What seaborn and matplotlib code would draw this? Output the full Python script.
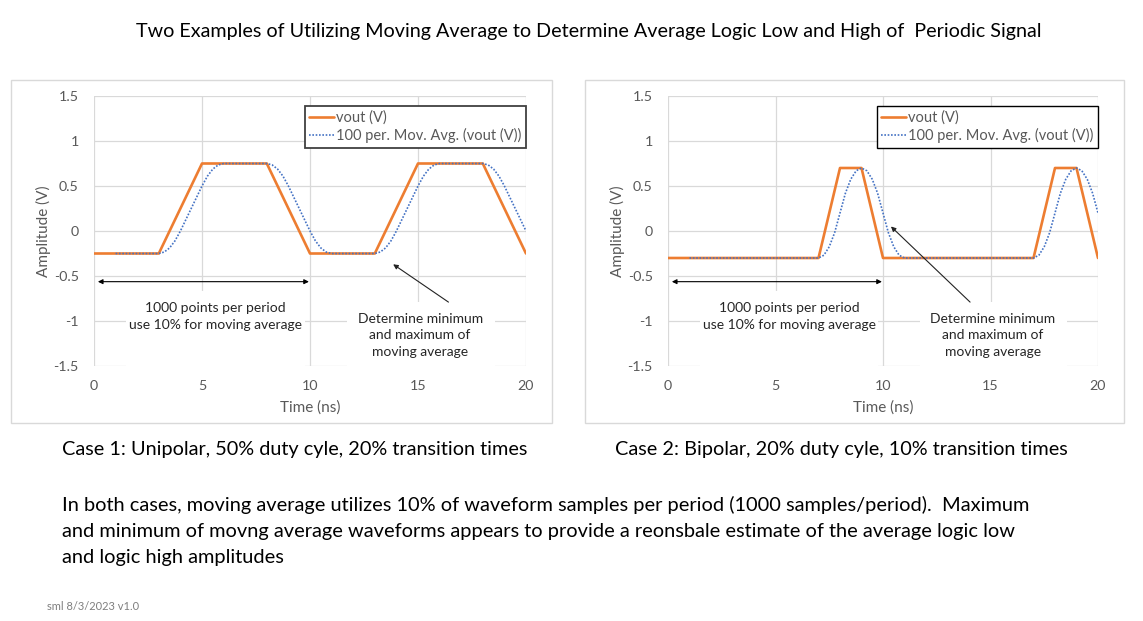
import numpy as np
import pandas as pd
import matplotlib
matplotlib.use("Agg")
import matplotlib.pyplot as plt
from matplotlib.patches import Rectangle
import seaborn as sns

# ---------------- data ----------------
# Case 1: unipolar, 50% duty, 20% transitions
t1_vout = [0, 3, 5, 8, 10, 13, 15, 18, 20]
v1_vout = [-0.25, -0.25, 0.75, 0.75, -0.25, -0.25, 0.75, 0.75, -0.25]
t1_ma = [1, 3, 3.25, 3.5, 3.75, 4, 4.5, 5, 5.25, 5.5, 5.75, 6,
         8, 8.25, 8.5, 8.75, 9, 9.5, 10, 10.25, 10.5, 10.75, 11,
         13, 13.25, 13.5, 13.75, 14, 14.5, 15, 15.25, 15.5, 15.75, 16,
         18, 18.25, 18.5, 18.75, 19, 19.5, 20]
v1_ma = [-0.25, -0.25, -0.234, -0.188, -0.109, 0.0, 0.25, 0.5, 0.609, 0.688, 0.734, 0.75,
         0.75, 0.734, 0.688, 0.609, 0.5, 0.25, 0.0, -0.109, -0.188, -0.234, -0.25,
         -0.25, -0.234, -0.188, -0.109, 0.0, 0.25, 0.5, 0.609, 0.688, 0.734, 0.75,
         0.75, 0.734, 0.688, 0.609, 0.5, 0.25, 0.0]

# Case 2: bipolar, 20% duty, 10% transitions
t2_vout = [0, 7, 8, 9, 10, 17, 18, 19, 20]
v2_vout = [-0.3, -0.3, 0.7, 0.7, -0.3, -0.3, 0.7, 0.7, -0.3]
t2_ma = [1, 7, 7.25, 7.5, 7.75, 8, 8.25, 8.5, 8.75, 9, 9.25, 9.5, 9.75, 10,
         10.25, 10.5, 10.75, 11,
         17, 17.25, 17.5, 17.75, 18, 18.25, 18.5, 18.75, 19, 19.25, 19.5, 19.75, 20]
v2_ma = [-0.3, -0.3, -0.269, -0.175, -0.019, 0.2, 0.419, 0.575, 0.669, 0.7, 0.669, 0.575, 0.419, 0.2,
         -0.019, -0.175, -0.269, -0.3,
         -0.3, -0.269, -0.175, -0.019, 0.2, 0.419, 0.575, 0.669, 0.7, 0.669, 0.575, 0.419, 0.2]

x_ticks = [0, 5, 10, 15, 20]
y_ticks = [-1.5, -1, -0.5, 0, 0.5, 1, 1.5]
y_ticklabels = ["-1.5", "-1", "-0.5", "0", "0.5", "1", "1.5"]

title = "Two Examples of Utilizing Moving Average to Determine Average Logic Low and High of  Periodic Signal"
cap1 = "Case 1: Unipolar, 50% duty cyle, 20% transition times"
cap2 = "Case 2: Bipolar, 20% duty cyle, 10% transition times"
para = ["In both cases, moving average utilizes 10% of waveform samples per period (1000 samples/period).  Maximum",
        "and minimum of movng average waveforms appears to provide a reonsbale estimate of the average logic low",
        "and logic high amplitudes"]

# ---------------- style ----------------
sns.set_style("white")
plt.rcParams['font.family'] = ['Lato', 'DejaVu Sans']

ORANGE = "#ED7D31"
BLUE = "#4472C4"
GRID = "#D9D9D9"
TICK = "#595959"

W, H = 1143, 621
fig = plt.figure(figsize=(W / 100, H / 100), dpi=100)
fig.patch.set_facecolor("white")

def fx(px):
    return px / W

def fy(py):
    return 1 - py / H

# chart frames
for (x0, x1) in [(10.5, 552), (585, 1124)]:
    fig.add_artist(Rectangle((fx(x0), fy(423)), fx(x1 - x0), (423 - 80) / H,
                             transform=fig.transFigure, facecolor="none",
                             edgecolor=GRID, lw=1.0))

axes_px = [(94, 526, "#404040", 51), (668, 1098, "black", 625)]
cases = [(t1_vout, v1_vout, t1_ma, v1_ma), (t2_vout, v2_vout, t2_ma, v2_ma)]
arrow_tail = [(16.41, -0.79), (14.05, -0.79)]
arrow_head = [(13.85, -0.37), (10.37, 0.05)]

for i, ((l, r, legcol, ylab_x), (tv, vv, tm, vm)) in enumerate(zip(axes_px, cases)):
    ax = fig.add_axes([fx(l), fy(366), fx(r - l), (366 - 96) / H])
    df_v = pd.DataFrame({"t": tv, "v": vv})
    df_m = pd.DataFrame({"t": tm, "v": vm})
    sns.lineplot(data=df_v, x="t", y="v", ax=ax, color=ORANGE, lw=1.9,
                 label="vout (V)", sort=False, estimator=None, zorder=3)
    sns.lineplot(data=df_m, x="t", y="v", ax=ax, color=BLUE, lw=1.2,
                 linestyle=(0, (1, 1)), label="100 per. Mov. Avg. (vout (V))",
                 sort=False, estimator=None, zorder=4)
    ax.set_xlim(0, 20)
    ax.set_ylim(-1.5, 1.5)
    ax.set_xticks(x_ticks)
    ax.set_yticks(y_ticks)
    ax.set_yticklabels(y_ticklabels)
    ax.grid(True, color=GRID, lw=0.9)
    ax.set_axisbelow(True)
    for s in ax.spines.values():
        s.set_visible(False)
    ax.tick_params(axis="both", length=0, colors=TICK, labelsize=10.3)
    ax.tick_params(axis="y", pad=11)
    ax.tick_params(axis="x", pad=10)
    ax.set_xlabel("Time (ns)", color=TICK, fontsize=11)
    ax.set_ylabel("Amplitude (V)", color=TICK, fontsize=11)
    ax.yaxis.set_label_coords(-(l - ylab_x) / (r - l), 0.5)
    ax.xaxis.set_label_coords(0.5, -(400 - 366) / 270)

    # white text boxes
    ax.add_patch(Rectangle((1.5, -1.52), 8.25, 0.85, facecolor="white", edgecolor="none", zorder=1))
    ax.add_patch(Rectangle((11.7, -1.52), 6.85, 0.73, facecolor="white", edgecolor="none", zorder=1))

    ax.annotate("", xy=(9.95, -0.563), xytext=(0.18, -0.563),
                arrowprops=dict(arrowstyle="<|-|>", color="black", lw=0.8,
                                mutation_scale=7, shrinkA=0, shrinkB=0), zorder=5)
    ax.annotate("", xy=arrow_head[i], xytext=arrow_tail[i],
                arrowprops=dict(arrowstyle="-|>", color="#222222", lw=0.8,
                                mutation_scale=7, shrinkA=0, shrinkB=0), zorder=5)
    ax.text(5.63, -0.95, "1000 points per period\nuse 10% for moving average",
            ha="center", va="center", fontsize=10, linespacing=1.45, zorder=6)
    ax.text(15.1, -1.16, "Determine minimum\nand maximum of\nmoving average",
            ha="center", va="center", fontsize=10, linespacing=1.45, zorder=6)

    leg = ax.legend(loc="upper right", bbox_to_anchor=(1.0, 1 - 10 / 270),
                    borderaxespad=0, fontsize=10.5, frameon=True, fancybox=False,
                    handlelength=1.7, handletextpad=0.15, borderpad=0.3,
                    labelspacing=0.25, labelcolor=TICK)
    fr = leg.get_frame()
    fr.set_edgecolor(legcol)
    fr.set_linewidth(1.3 if i == 0 else 1.0)
    fr.set_alpha(1)

fig.text(fx(589), fy(31), title, ha="center", va="center", fontsize=14.2, color="black")
fig.text(fx(62), fy(449), cap1, ha="left", va="center", fontsize=14.3, color="black")
fig.text(fx(615), fy(449), cap2, ha="left", va="center", fontsize=14.3, color="black")
for k, line in enumerate(para):
    fig.text(fx(62), fy(505 + 26 * k), line, ha="left", va="center", fontsize=14.45, color="black")
fig.text(fx(47), fy(607), "sml 8/3/2023 v1.0", ha="left", va="center", fontsize=8, color="#7F7F7F")

fig.savefig("out.png", dpi=100, facecolor="white")
